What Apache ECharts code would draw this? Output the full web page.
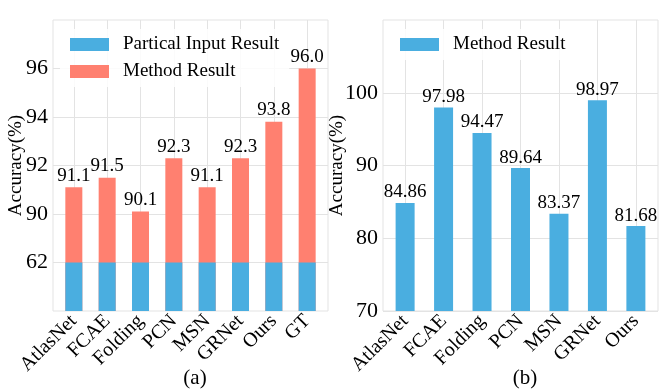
<!DOCTYPE html>
<html>
<head>
<meta charset="utf-8">
<script src="https://cdn.jsdelivr.net/npm/echarts@6/dist/echarts.min.js"></script>
<style>
  html, body { margin: 0; padding: 0; background: #fff; }
  #main { width: 664px; height: 392px; }
</style>
</head>
<body>
<div id="main"></div>
<script>
// (a) data
var catsA = ["AtlasNet", "FCAE", "Folding", "PCN", "MSN", "GRNet", "Ours", "GT"];
var partialA = [62, 62, 62, 62, 62, 62, 62, 62];
var methodA = [91.1, 91.5, 90.1, 92.3, 91.1, 92.3, 93.8, 96.0];
// broken axis on (a): these ticks sit at equal steps
var tickLabelsA = [62, 90, 92, 94, 96];

// (b) data
var catsB = ["AtlasNet", "FCAE", "Folding", "PCN", "MSN", "GRNet", "Ours"];
var methodB = [84.86, 97.98, 94.47, 89.64, 83.37, 98.97, 81.68];
var tickLabelsB = [70, 80, 90, 100];

var FONT = "'Liberation Serif', 'DejaVu Serif', serif";
var BLUE = "#4AAEE0";
var RED = "#FF8070";
var GRID = "#e3e3e3";

// map accuracy -> position on the broken axis of (a)
function posA(v) {
  if (v <= 62) return v / 62;
  if (v <= 90) return 1 + (v - 62) / 28;
  return 2 + (v - 90) / 2;
}

var idxA = catsA.map(function (c, i) { return i; });
var idxB = catsB.map(function (c, i) { return i; });
var ticksA = tickLabelsA.map(posA);

function xAxisFor(gridIndex, cats, idx, pad) {
  return {
    type: "value", gridIndex: gridIndex,
    min: -pad, max: cats.length - 1 + pad,
    axisLine: { show: false },
    axisTick: { show: false, customValues: idx },
    splitLine: { show: true, lineStyle: { color: GRID, width: 1 } },
    axisLabel: {
      customValues: idx, rotate: 45, margin: 7,
      fontFamily: FONT, fontSize: 20, color: "#000",
      formatter: function (v) { return cats[Math.round(v)]; }
    }
  };
}

function yName(gap) {
  return {
    name: "Accuracy(%)", nameLocation: "middle", nameRotate: 90, nameGap: gap,
    nameMoveOverlap: false,
    nameTextStyle: { fontFamily: FONT, fontSize: 19, color: "#000" }
  };
}

var myChart = echarts.init(document.getElementById("main"));
myChart.setOption({
  animation: false,
  backgroundColor: "#fff",
  textStyle: { fontFamily: FONT },
  title: [
    { text: "(a)", left: 190, top: 363, textAlign: "center",
      textStyle: { fontFamily: FONT, fontSize: 21, fontWeight: "normal", color: "#000" } },
    { text: "(b)", left: 520, top: 363, textAlign: "center",
      textStyle: { fontFamily: FONT, fontSize: 21, fontWeight: "normal", color: "#000" } }
  ],
  legend: [
    {
      data: [
        { name: "Partical Input Result", itemStyle: { color: BLUE } },
        { name: "Method Result", itemStyle: { color: RED } }
      ],
      orient: "vertical", left: 60, top: 29, padding: [6, 10, 6, 10],
      itemWidth: 39, itemHeight: 13, itemGap: 8, icon: "rect",
      backgroundColor: "rgba(255,255,255,0.85)",
      textStyle: { fontFamily: FONT, fontSize: 19, color: "#000", padding: [0, 0, 0, 9] }
    },
    {
      data: [{ name: "Method Result", itemStyle: { color: BLUE } }],
      orient: "vertical", left: 390, top: 29, padding: [6, 10, 6, 10],
      itemWidth: 39, itemHeight: 13, icon: "rect",
      backgroundColor: "rgba(255,255,255,0.85)",
      textStyle: { fontFamily: FONT, fontSize: 19, color: "#000", padding: [0, 0, 0, 9] }
    }
  ],
  grid: [
    { left: 53, right: 336, top: 20, bottom: 81, show: true, borderColor: GRID, borderWidth: 1, backgroundColor: "transparent" },
    { left: 383, right: 6, top: 20, bottom: 81, show: true, borderColor: GRID, borderWidth: 1, backgroundColor: "transparent" }
  ],
  xAxis: [xAxisFor(0, catsA, idxA, 0.625), xAxisFor(1, catsB, idxB, 0.575)],
  yAxis: [
    Object.assign({
      type: "value", gridIndex: 0, min: 0, max: 6,
      axisLine: { show: false },
      axisTick: { show: false, customValues: ticksA },
      splitLine: { show: true, lineStyle: { color: GRID, width: 1 } },
      axisLabel: {
        customValues: ticksA, margin: 5,
        fontFamily: FONT, fontSize: 22, color: "#000",
        formatter: function (v) {
          var i = ticksA.indexOf(v);
          return i >= 0 ? String(tickLabelsA[i]) : "";
        }
      }
    }, yName(27)),
    Object.assign({
      type: "value", gridIndex: 1, min: 70, max: 110,
      axisLine: { show: false },
      axisTick: { show: false, customValues: tickLabelsB },
      splitLine: { show: true, lineStyle: { color: GRID, width: 1 } },
      axisLabel: {
        customValues: tickLabelsB, margin: 5,
        fontFamily: FONT, fontSize: 22, color: "#000"
      }
    }, yName(36))
  ],
  series: [
    {
      name: "Method Result", type: "bar",
      xAxisIndex: 0, yAxisIndex: 0, barWidth: 17, barGap: "-100%", z: 2,
      itemStyle: { color: RED },
      label: {
        show: true, position: "top", distance: 2,
        fontFamily: FONT, fontSize: 19, color: "#000",
        formatter: function (p) { return methodA[p.dataIndex].toFixed(1); }
      },
      data: methodA.map(function (v, i) { return [i, posA(v)]; })
    },
    {
      name: "Partical Input Result", type: "bar",
      xAxisIndex: 0, yAxisIndex: 0, barWidth: 17, barGap: "-100%", z: 3,
      itemStyle: { color: BLUE },
      data: partialA.map(function (v, i) { return [i, posA(v)]; })
    },
    {
      name: "Method Result", type: "bar",
      xAxisIndex: 1, yAxisIndex: 1, barWidth: 19,
      itemStyle: { color: BLUE },
      label: {
        show: true, position: "top", distance: 1,
        fontFamily: FONT, fontSize: 19, color: "#000",
        formatter: function (p) { return methodB[p.dataIndex].toFixed(2); }
      },
      data: methodB.map(function (v, i) { return [i, v]; })
    }
  ]
});
</script>
</body>
</html>
